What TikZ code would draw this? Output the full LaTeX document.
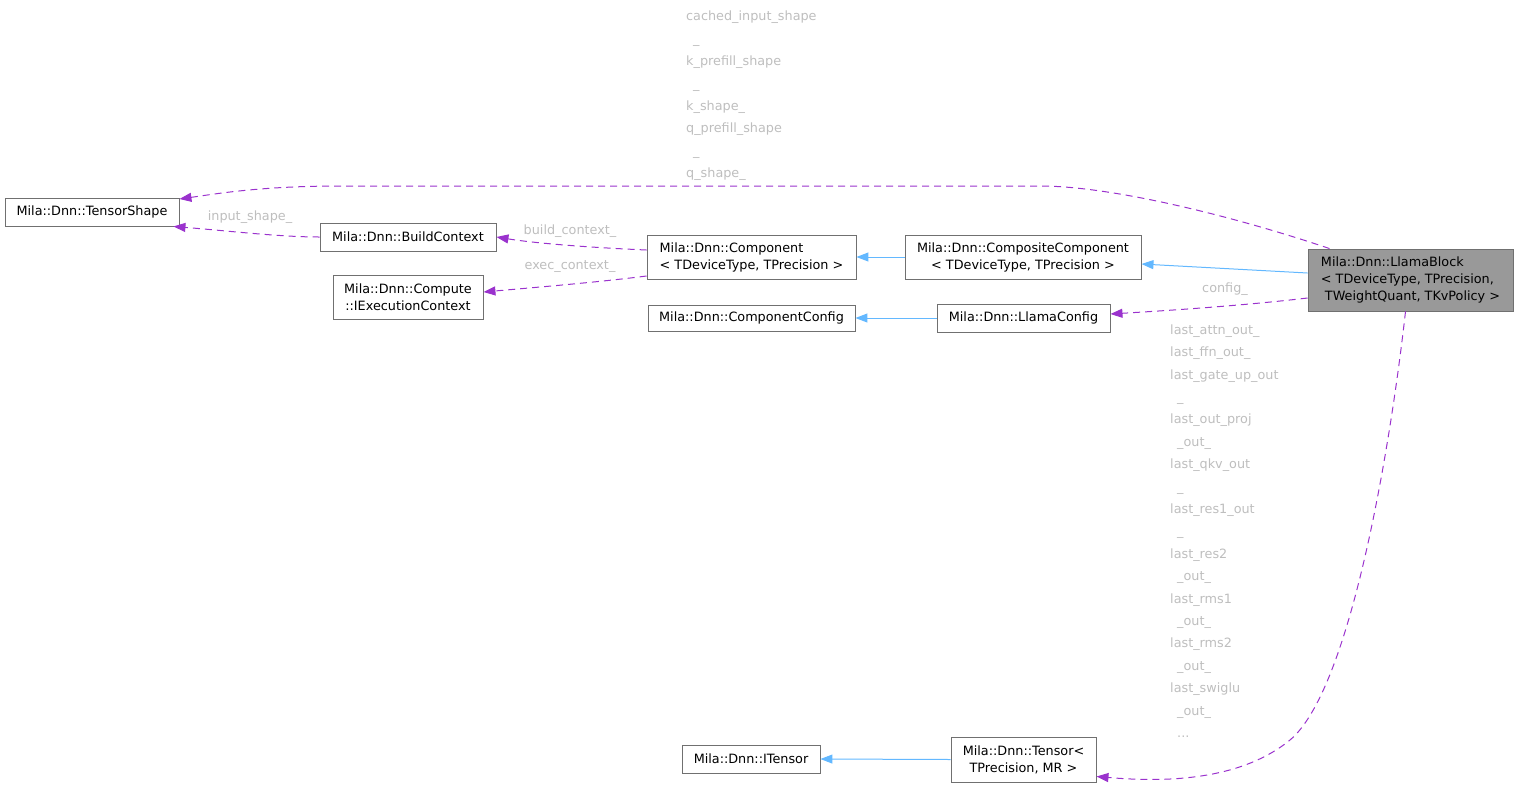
\documentclass[tikz,border=0pt]{standalone}
\usepackage{fontspec}
\setmainfont{DejaVu Sans}
\usetikzlibrary{arrows.meta}
\definecolor{edgepurple}{HTML}{9A32CD}
\definecolor{edgeblue}{HTML}{63B8FF}
\definecolor{boxline}{HTML}{707070}
\definecolor{lblgrey}{HTML}{BEBEBE}
\definecolor{mainfill}{HTML}{999999}
\begin{document}
\begin{tikzpicture}[x=1pt,y=-1pt,
  box/.style={draw=boxline, line width=0.9pt, fill=white, inner sep=0pt, text=black,
    font=\fontsize{12.8}{17}\selectfont},
  dep/.style={draw=edgepurple, line width=1pt, dash pattern=on 7pt off 5pt,
    -{Triangle[length=12pt,width=9pt]}},
  inh/.style={draw=edgeblue, line width=1pt, -{Triangle[length=12pt,width=9pt]}},
  lbl/.style={text=lblgrey, inner sep=0pt, align=left, font=\fontsize{12.8}{22.4}\selectfont},
  elbl/.style={text=lblgrey, inner sep=0pt, font=\fontsize{12.8}{15}\selectfont}
]
\useasboundingbox (0,0) rectangle (1519,788);

% nodes
\node[box, minimum width=174pt, minimum height=28pt] (ts) at (92,212) {Mila::Dnn::TensorShape};
\node[box, minimum width=176pt, minimum height=28pt] (bc) at (408,237) {Mila::Dnn::BuildContext};
\node[box, minimum width=150pt, minimum height=44pt, align=center] (iec) at (408,297) {Mila::Dnn::Compute\\::IExecutionContext};
\node[box, minimum width=209pt, minimum height=44pt, align=left] (comp) at (751.5,257) {Mila::Dnn::Component\\< TDeviceType, TPrecision >};
\node[box, minimum width=207pt, minimum height=26pt] (ccfg) at (751.5,318) {Mila::Dnn::ComponentConfig};
\node[box, minimum width=236pt, minimum height=44pt, align=center] (cc) at (1023,257) {Mila::Dnn::CompositeComponent\\< TDeviceType, TPrecision >};
\node[box, minimum width=173pt, minimum height=28pt] (lc) at (1023.5,318) {Mila::Dnn::LlamaConfig};
\node[box, fill=mainfill, minimum width=205pt, minimum height=62pt, align=left] (lb) at (1410.5,280) {Mila::Dnn::LlamaBlock\\< TDeviceType, TPrecision,\\\hspace*{4pt}TWeightQuant, TKvPolicy >};
\node[box, minimum width=138pt, minimum height=28pt] (it) at (751,759) {Mila::Dnn::ITensor};
\node[box, minimum width=145pt, minimum height=45pt, align=center] (tn) at (1023.5,759.5) {Mila::Dnn::Tensor<\\ TPrecision, MR >};

% inheritance
\draw[inh] (cc.west) -- (comp.east);
\draw[inh] ([yshift=7pt]lb.west) -- ([yshift=-7pt]cc.east);
\draw[inh] (lc.west) -- (ccfg.east);
\draw[inh] (tn.west) -- (it.east);

% usage
\draw[dep] ([xshift=22pt]lb.north west) .. controls (1230,215) and (1110,186) .. (1040,186)
  -- (340,186) .. controls (260,186) and (215,194) .. ([yshift=13pt]ts.east);
\draw[dep] (bc.west) .. controls (280,237) and (230,231) .. ([xshift=-6pt]ts.south east);
\draw[dep] ([yshift=7pt]comp.west) .. controls (600,248) and (540,244) .. (bc.east);
\draw[dep] ([yshift=-19pt]comp.west) .. controls (600,282) and (540,287) .. ([yshift=5pt]iec.east);
\draw[dep] ([yshift=-18pt]lb.west) .. controls (1240,306) and (1160,311) .. ([yshift=4pt]lc.east);
\draw[dep] ([xshift=-5pt]lb.south) .. controls (1390,450) and (1350,690) .. (1290,740)
  .. controls (1235,785) and (1150,781) .. ([yshift=-17pt]tn.east);

% labels
\node[elbl] (l1) at (250,217) {input\_shape\_};
\node[elbl] (l2) at (570,231) {build\_context\_};
\node[elbl] (l3) at (570,267) {exec\_context\_};
\node[elbl] (l4) at (1225,289) {config\_};
\node[lbl, anchor=west] (l5) at (686,96) {cached\_input\_shape\\\hspace*{7pt}\_\\k\_prefill\_shape\\\hspace*{7pt}\_\\k\_shape\_\\q\_prefill\_shape\\\hspace*{7pt}\_\\q\_shape\_};
\node[lbl, anchor=west] (l6) at (1170,531) {last\_attn\_out\_\\last\_ffn\_out\_\\last\_gate\_up\_out\\\hspace*{7pt}\_\\last\_out\_proj\\\hspace*{7pt}\_out\_\\last\_qkv\_out\\\hspace*{7pt}\_\\last\_res1\_out\\\hspace*{7pt}\_\\last\_res2\\\hspace*{7pt}\_out\_\\last\_rms1\\\hspace*{7pt}\_out\_\\last\_rms2\\\hspace*{7pt}\_out\_\\last\_swiglu\\\hspace*{7pt}\_out\_\\\hspace*{7pt}...};
\end{tikzpicture}
\end{document}
